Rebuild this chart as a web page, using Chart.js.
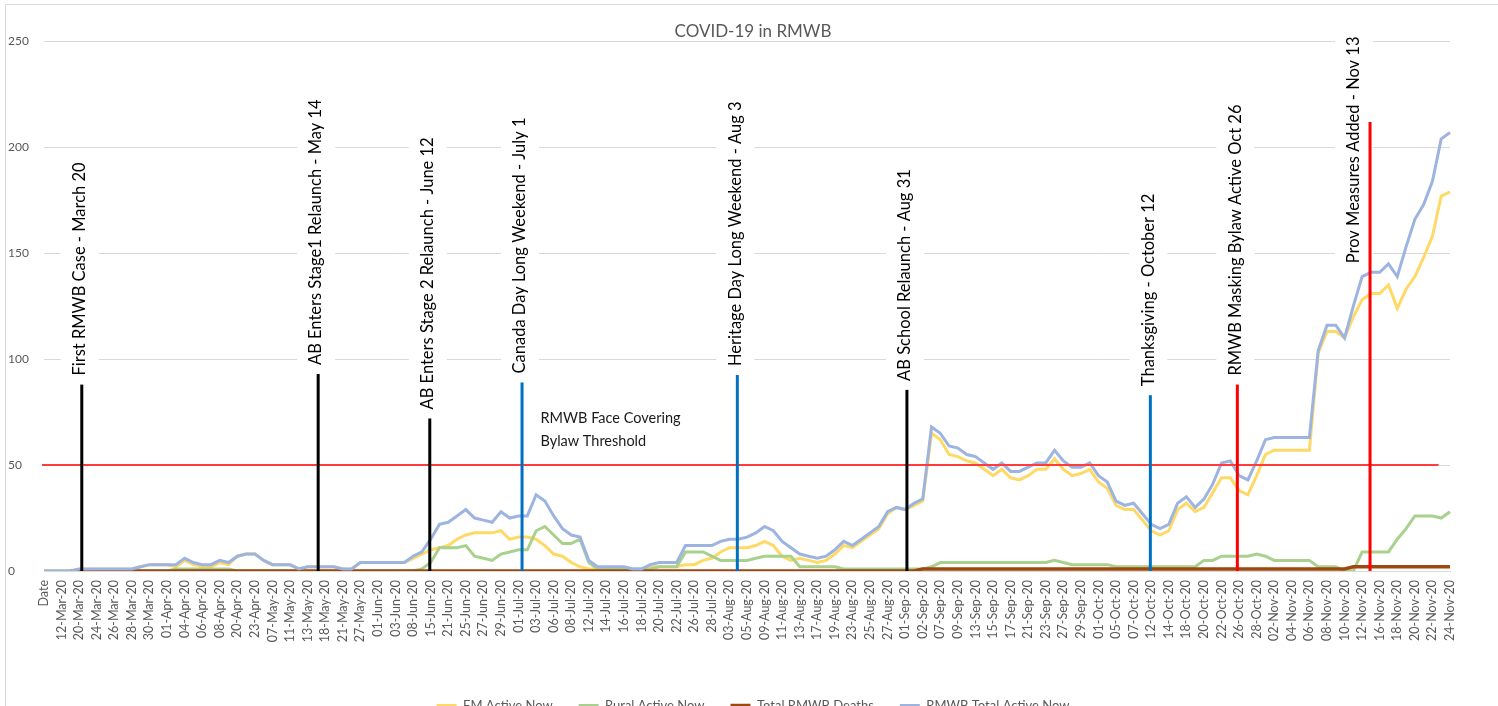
<!DOCTYPE html>
<html>
<head>
<meta charset="utf-8">
<title>COVID-19 in RMWB</title>
<script src="https://cdn.jsdelivr.net/npm/chart.js@4.4.1/dist/chart.umd.min.js"></script>
<style>
  html, body { margin: 0; padding: 0; background: #fff; overflow: hidden; }
  #wrap { position: relative; width: 1498px; height: 722px; }
</style>
</head>
<body>
<div id="wrap"><canvas id="covidChart"></canvas></div>
<script>
// categories (every other one gets a visible tick label, like Excel did)
const dateLabels = [
  'Date', '11-Mar-20', '12-Mar-20', '19-Mar-20', '20-Mar-20', '23-Mar-20', '24-Mar-20', '25-Mar-20', '26-Mar-20', '27-Mar-20',
  '28-Mar-20', '29-Mar-20', '30-Mar-20', '31-Mar-20', '01-Apr-20', '03-Apr-20', '04-Apr-20', '05-Apr-20', '06-Apr-20', '07-Apr-20',
  '08-Apr-20', '09-Apr-20', '20-Apr-20', '22-Apr-20', '23-Apr-20', '06-May-20', '07-May-20', '08-May-20', '11-May-20', '12-May-20',
  '13-May-20', '14-May-20', '18-May-20', '20-May-20', '21-May-20', '26-May-20', '27-May-20', '29-May-20', '01-Jun-20', '02-Jun-20',
  '03-Jun-20', '05-Jun-20', '08-Jun-20', '12-Jun-20', '15-Jun-20', '18-Jun-20', '21-Jun-20', '23-Jun-20', '25-Jun-20', '26-Jun-20',
  '27-Jun-20', '28-Jun-20', '29-Jun-20', '30-Jun-20', '01-Jul-20', '02-Jul-20', '03-Jul-20', '05-Jul-20', '06-Jul-20', '07-Jul-20',
  '08-Jul-20', '10-Jul-20', '12-Jul-20', '13-Jul-20', '14-Jul-20', '15-Jul-20', '16-Jul-20', '17-Jul-20', '18-Jul-20', '19-Jul-20',
  '20-Jul-20', '21-Jul-20', '22-Jul-20', '24-Jul-20', '26-Jul-20', '27-Jul-20', '28-Jul-20', '31-Jul-20', '03-Aug-20', '04-Aug-20',
  '05-Aug-20', '07-Aug-20', '09-Aug-20', '10-Aug-20', '11-Aug-20', '12-Aug-20', '13-Aug-20', '14-Aug-20', '17-Aug-20', '18-Aug-20',
  '19-Aug-20', '21-Aug-20', '23-Aug-20', '24-Aug-20', '25-Aug-20', '26-Aug-20', '27-Aug-20', '31-Aug-20', '01-Sep-20', '01-Sep-20',
  '02-Sep-20', '04-Sep-20', '07-Sep-20', '08-Sep-20', '09-Sep-20', '11-Sep-20', '13-Sep-20', '14-Sep-20', '15-Sep-20', '16-Sep-20',
  '17-Sep-20', '18-Sep-20', '21-Sep-20', '22-Sep-20', '23-Sep-20', '25-Sep-20', '27-Sep-20', '28-Sep-20', '29-Sep-20', '30-Sep-20',
  '01-Oct-20', '02-Oct-20', '05-Oct-20', '06-Oct-20', '07-Oct-20', '09-Oct-20', '12-Oct-20', '13-Oct-20', '14-Oct-20', '16-Oct-20',
  '18-Oct-20', '19-Oct-20', '20-Oct-20', '21-Oct-20', '22-Oct-20', '23-Oct-20', '26-Oct-20', '27-Oct-20', '28-Oct-20', '30-Oct-20',
  '02-Nov-20', '03-Nov-20', '04-Nov-20', '05-Nov-20', '06-Nov-20', '07-Nov-20', '08-Nov-20', '09-Nov-20', '10-Nov-20', '11-Nov-20',
  '12-Nov-20', '13-Nov-20', '16-Nov-20', '17-Nov-20', '18-Nov-20', '19-Nov-20', '20-Nov-20', '21-Nov-20', '22-Nov-20', '23-Nov-20',
  '24-Nov-20'
];

const fmActive = [
  0, 0, 0, 0, 1, 1, 1, 1, 1, 1,
  1, 2, 3, 3, 3, 2, 5, 3, 2, 2,
  4, 3, 7, 8, 8, 5, 3, 3, 3, 1,
  2, 2, 2, 2, 1, 1, 4, 4, 4, 4,
  4, 4, 6, 8, 10, 11, 12, 15, 17, 18,
  18, 18, 19, 15, 16, 16, 15, 12, 8, 7,
  4, 2, 1, 1, 1, 1, 1, 0, 0, 2,
  2, 2, 2, 3, 3, 5, 6, 9, 11, 11,
  11, 12, 14, 12, 7, 5, 6, 5, 4, 5,
  8, 12, 11, 14, 17, 20, 27, 30, 29, 31,
  33, 65, 62, 55, 54, 52, 51, 48, 45, 48,
  44, 43, 45, 48, 48, 53, 48, 45, 46, 48,
  42, 39, 31, 29, 29, 24, 19, 17, 19, 29,
  32, 28, 30, 37, 44, 44, 38, 36, 45, 55,
  57, 57, 57, 57, 57, 103, 113, 113, 110, 120,
  128, 131, 131, 135, 124, 133, 139, 148, 158, 177,
  179
];

const ruralActive = [
  0, 0, 0, 0, 0, 0, 0, 0, 0, 0,
  0, 0, 0, 0, 0, 1, 1, 1, 1, 1,
  1, 1, 0, 0, 0, 0, 0, 0, 0, 0,
  0, 0, 0, 0, 0, 0, 0, 0, 0, 0,
  0, 0, 0, 1, 4, 11, 11, 11, 12, 7,
  6, 5, 8, 9, 10, 10, 19, 21, 17, 13,
  13, 15, 4, 1, 1, 1, 1, 1, 1, 1,
  2, 2, 2, 9, 9, 9, 7, 5, 5, 5,
  5, 6, 7, 7, 7, 7, 2, 2, 2, 2,
  2, 1, 1, 1, 1, 1, 1, 1, 1, 1,
  1, 2, 4, 4, 4, 4, 4, 4, 4, 4,
  4, 4, 4, 4, 4, 5, 4, 3, 3, 3,
  3, 3, 2, 2, 2, 2, 2, 2, 2, 2,
  2, 2, 5, 5, 7, 7, 7, 7, 8, 7,
  5, 5, 5, 5, 5, 2, 2, 2, 0, 0,
  9, 9, 9, 9, 15, 20, 26, 26, 26, 25,
  28
];

const totalDeaths = [
  null, null, null, 0, 0, 0, 0, 0, 0, 0,
  0, 0, 0, 0, 0, 0, 0, 0, 0, 0,
  0, 0, 0, 0, 0, 0, 0, 0, 0, 0,
  0, 0, 0, 0, 0, 0, 0, 0, 0, 0,
  0, 0, 0, 0, 0, 0, 0, 0, 0, 0,
  0, 0, 0, 0, 0, 0, 0, 0, 0, 0,
  0, 0, 0, 0, 0, 0, 0, 0, 0, 0,
  0, 0, 0, 0, 0, 0, 0, 0, 0, 0,
  0, 0, 0, 0, 0, 0, 0, 0, 0, 0,
  0, 0, 0, 0, 0, 0, 0, 0, 0, 0,
  1, 1, 1, 1, 1, 1, 1, 1, 1, 1,
  1, 1, 1, 1, 1, 1, 1, 1, 1, 1,
  1, 1, 1, 1, 1, 1, 1, 1, 1, 1,
  1, 1, 1, 1, 1, 1, 1, 1, 1, 1,
  1, 1, 1, 1, 1, 1, 1, 1, 1, 2,
  2, 2, 2, 2, 2, 2, 2, 2, 2, 2,
  2
];

const totalActive = [
  0, 0, 0, 0, 1, 1, 1, 1, 1, 1,
  1, 2, 3, 3, 3, 3, 6, 4, 3, 3,
  5, 4, 7, 8, 8, 5, 3, 3, 3, 1,
  2, 2, 2, 2, 1, 1, 4, 4, 4, 4,
  4, 4, 7, 9, 15, 22, 23, 26, 29, 25,
  24, 23, 28, 25, 26, 26, 36, 33, 26, 20,
  17, 16, 5, 2, 2, 2, 2, 1, 1, 3,
  4, 4, 4, 12, 12, 12, 12, 14, 15, 15,
  16, 18, 21, 19, 14, 11, 8, 7, 6, 7,
  10, 14, 12, 15, 18, 21, 28, 30, 29, 32,
  34, 68, 65, 59, 58, 55, 54, 51, 48, 51,
  47, 47, 49, 51, 51, 57, 52, 49, 49, 51,
  45, 42, 33, 31, 32, 27, 22, 20, 22, 32,
  35, 30, 34, 41, 51, 52, 45, 43, 52, 62,
  63, 63, 63, 63, 63, 104, 116, 116, 110, 125,
  139, 141, 141, 145, 139, 153, 166, 173, 184, 204,
  207
];

const yTicks = [0, 50, 100, 150, 200, 250];
const threshold = 50;

// drawn-on shapes from the original sheet
const events = [
  { text: 'First RMWB Case - March 20', date: '20-Mar-20', nudge: 0.3, top: 88, color: '#000000' },
  { text: 'AB Enters Stage1 Relaunch - May 14', date: '14-May-20', nudge: 0.2, top: 93, color: '#000000' },
  { text: 'AB Enters Stage 2 Relaunch - June 12', date: '12-Jun-20', nudge: 0.9, top: 72, color: '#000000' },
  { text: 'Canada Day Long Weekend - July 1', date: '01-Jul-20', nudge: 0.4, top: 89, color: '#0070c0' },
  { text: 'Heritage Day Long Weekend - Aug 3', date: '03-Aug-20', nudge: 0.9, top: 92.5, color: '#0070c0' },
  { text: 'AB School Relaunch - Aug 31', date: '31-Aug-20', nudge: 1.2, top: 85.5, color: '#000000' },
  { text: 'Thanksgiving - October 12', date: '12-Oct-20', nudge: -0.1, top: 83, color: '#0070c0' },
  { text: 'RMWB Masking Bylaw Active Oct 26', date: '26-Oct-20', nudge: -0.2, top: 88, color: '#ff0000' },
  { text: 'Prov Measures Added - Nov 13', date: '13-Nov-20', nudge: -0.1, top: 212, color: '#ff0000', textFrom: 145.3, dx: -16 }
];
const eventFont = 16.5;

const frame = {
  id: 'frame',
  beforeDraw(chart) {
    const ctx = chart.ctx;
    ctx.save();
    ctx.fillStyle = '#ffffff';
    ctx.fillRect(0, 0, chart.width, chart.height);
    ctx.strokeStyle = '#d9d9d9';
    ctx.lineWidth = 1;
    ctx.beginPath();
    ctx.moveTo(5.5, chart.height);
    ctx.lineTo(5.5, 4.5);
    ctx.lineTo(chart.width, 4.5);
    ctx.stroke();
    ctx.restore();
  }
};

const shapes = {
  id: 'shapes',
  afterDraw(chart) {
    const ctx = chart.ctx;
    const x = chart.scales.x;
    const y = chart.scales.y;
    const base = y.getPixelForValue(0);
    ctx.save();

    // threshold line + its label
    const ty = y.getPixelForValue(threshold);
    ctx.strokeStyle = '#ff3b3b';
    ctx.lineWidth = 2;
    ctx.beginPath();
    ctx.moveTo(x.getPixelForValue(0) - 2, ty);
    ctx.lineTo(x.getPixelForValue(158.7), ty);
    ctx.stroke();

    ctx.fillStyle = '#1a1a1a';
    ctx.font = '14.5px Lato';
    ctx.textAlign = 'left';
    ctx.textBaseline = 'middle';
    ctx.fillText('RMWB Face Covering', x.getPixelForValue(56.5), y.getPixelForValue(72.2));
    ctx.fillText('Bylaw Threshold', x.getPixelForValue(56.5), y.getPixelForValue(61.3));

    ctx.font = eventFont + 'px Lato';
    const items = events.map(e => {
      const px = x.getPixelForValue(dateLabels.indexOf(e.date) + e.nudge);
      const topPx = y.getPixelForValue(e.top);
      const len = ctx.measureText(e.text).width;
      const tx = px + (e.dx !== undefined ? e.dx : -2);
      const tb = e.textFrom !== undefined ? y.getPixelForValue(e.textFrom) : topPx - 9;
      return { e, px, topPx, len, tx, tb };
    });

    // white text boxes sit over the gridlines
    ctx.fillStyle = '#ffffff';
    items.forEach(it => {
      ctx.fillRect(it.tx - 19, it.tb - it.len - 5, 38, it.len + 10);
    });

    ctx.lineWidth = 3;
    items.forEach(it => {
      ctx.strokeStyle = it.e.color;
      ctx.beginPath();
      ctx.moveTo(it.px, base);
      ctx.lineTo(it.px, it.topPx);
      ctx.stroke();
    });

    ctx.fillStyle = '#000000';
    items.forEach(it => {
      ctx.save();
      ctx.translate(it.tx, it.tb);
      ctx.rotate(-Math.PI / 2);
      ctx.font = eventFont + 'px Lato';
      ctx.textAlign = 'left';
      ctx.textBaseline = 'middle';
      ctx.fillText(it.e.text, 0, 0);
      ctx.restore();
    });

    ctx.restore();
  }
};

Chart.defaults.font.family = 'Lato, "Liberation Sans", sans-serif';
Chart.defaults.color = '#595959';

function series(label, data, color, order, width) {
  return {
    label: label,
    data: data,
    borderColor: color,
    backgroundColor: color,
    borderWidth: width,
    pointRadius: 0,
    pointHoverRadius: 0,
    tension: 0,
    order: order
  };
}

new Chart(document.getElementById('covidChart'), {
  type: 'line',
  data: {
    labels: dateLabels,
    datasets: [
      series('FM Active Now', fmActive, '#ffd966', 4, 3),
      series('Rural Active Now', ruralActive, '#a9d18e', 3, 3),
      series('Total RMWB Deaths', totalDeaths, '#9e480e', 2, 3.5),
      series('RMWB Total Active Now', totalActive, '#9db4e0', 1, 3)
    ]
  },
  options: {
    responsive: true,
    maintainAspectRatio: false,
    animation: false,
    devicePixelRatio: 1,
    layout: { padding: { left: 8, right: 0, top: 0, bottom: 0 } },
    plugins: {
      title: {
        display: true,
        text: 'COVID-19 in RMWB',
        color: '#595959',
        font: { size: 17, weight: 'normal' },
        padding: { top: 21, bottom: 0 }
      },
      legend: {
        position: 'bottom',
        labels: {
          usePointStyle: true,
          pointStyle: 'line',
          pointStyleWidth: 20,
          color: '#595959',
          font: { size: 13 },
          padding: 26,
          sort: (a, b) => a.datasetIndex - b.datasetIndex
        }
      },
      tooltip: { enabled: false }
    },
    scales: {
      x: {
        offset: false,
        grid: { display: false, drawTicks: false },
        border: { display: true, color: '#d9d9d9' },
        ticks: {
          autoSkip: false,
          maxRotation: 90,
          minRotation: 90,
          padding: 9,
          color: '#595959',
          font: { size: 12.5 },
          callback: function (v, i) { return i % 2 === 0 ? this.getLabelForValue(v) : ''; }
        },
        afterFit: s => { s.height = 102; }
      },
      y: {
        min: 0,
        max: 250,
        grid: { color: '#d9d9d9', drawTicks: false },
        border: { display: false },
        ticks: { crossAlign: 'far', color: '#595959', font: { size: 12 }, padding: 0 },
        afterBuildTicks: s => { s.ticks = yTicks.map(v => ({ value: v })); },
        afterFit: s => { s.width = 36; }
      },
      y2: {
        position: 'right',
        display: true,
        grid: { display: false, drawTicks: false },
        border: { display: false },
        ticks: { display: false },
        afterFit: s => { s.width = 48; }
      }
    }
  },
  plugins: [frame, shapes]
});
</script>
</body>
</html>
